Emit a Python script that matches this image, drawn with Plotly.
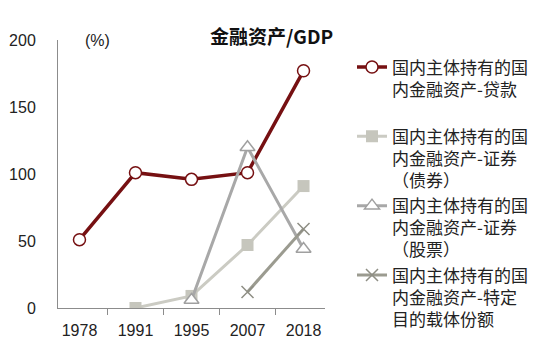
import plotly.graph_objects as go

years = ["1978", "1991", "1995", "2007", "2018"]
loans = [51, 101, 96, 101, 177]
bonds = [None, 0, 9, 47, 91]
stocks = [None, None, 6, 120, 44]
spv = [None, None, None, 12, 59]

names = [
    "国内主体持有的国<br>内金融资产-贷款<br> ",
    "国内主体持有的国<br>内金融资产-证券<br>（债券）",
    "国内主体持有的国<br>内金融资产-证券<br>（股票）",
    "国内主体持有的国<br>内金融资产-特定<br>目的载体份额",
]

L, R, T, B, W, H = 58, 225, 40, 38, 550, 346
PW, PH = W - L - R, H - T - B


def px(x):
    return (x - L) / PW


def py(y):
    return (H - B - y) / PH


fig = go.Figure()
fig.add_trace(go.Scatter(
    x=years, y=loans, name=names[0], mode="lines+markers",
    line=dict(color="#761012", width=3.5),
    marker=dict(symbol="circle", size=12, color="white",
                line=dict(color="#761012", width=1.5)),
))
fig.add_trace(go.Scatter(
    x=years, y=bonds, name=names[1], mode="lines+markers",
    line=dict(color="#CBCBC3", width=3),
    marker=dict(symbol="square", size=12, color="#C6C6BD"),
))
fig.add_trace(go.Scatter(
    x=years, y=stocks, name=names[2], mode="lines+markers",
    line=dict(color="#A8A8A8", width=3),
    marker=dict(symbol="triangle-up", size=13, color="white",
                line=dict(color="#A0A0A0", width=1.5)),
))
fig.add_trace(go.Scatter(
    x=years, y=spv, name=names[3], mode="lines+markers",
    line=dict(color="#9B9B90", width=3),
    marker=dict(symbol="x-thin", size=12, color="#8E8E84",
                line=dict(color="#8E8E84", width=1.5)),
))

fig.update_layout(
    width=W, height=H,
    margin=dict(l=L, r=R, t=T, b=B),
    paper_bgcolor="white", plot_bgcolor="white",
    font=dict(family="Noto Sans CJK SC, Liberation Sans", color="#222222"),
    showlegend=True,
    legend=dict(
        xref="container", yref="container",
        x=0.64, y=0.857, xanchor="left", yanchor="top",
        font=dict(size=17, family="Noto Sans CJK SC", color="#222222"),
        valign="top", itemwidth=30, tracegroupgap=0, maxheight=340,
        bgcolor="rgba(0,0,0,0)",
    ),
    annotations=[
        dict(text="<b>金融资产/GDP</b>", x=px(271), y=py(36), xref="paper", yref="paper",
             xanchor="center", yanchor="middle",
             showarrow=False, font=dict(size=19, family="Noto Sans CJK SC", color="#111111")),
        dict(text="(%)", x=px(97), y=py(41), xref="paper", yref="paper",
             xanchor="center", yanchor="middle",
             showarrow=False, font=dict(size=16, family="Liberation Sans", color="#222222")),
    ],
)

fig.update_xaxes(
    type="category", showline=True, linecolor="#8C8C8C", linewidth=1,
    ticks="outside", tickson="boundaries", ticklen=6, tickcolor="#8C8C8C",
    showgrid=False, ticklabelstandoff=8, automargin=False,
    tickfont=dict(size=16, family="Liberation Sans", color="#222222"),
)
fig.update_yaxes(
    range=[0, 200], tickvals=[0, 50, 100, 150, 200], showline=True,
    linecolor="#8C8C8C", linewidth=1, ticks="", showgrid=False, zeroline=False,
    ticklabelstandoff=18, automargin=False,
    tickfont=dict(size=16, family="Liberation Sans", color="#222222"),
)

fig.write_html("out.html")
